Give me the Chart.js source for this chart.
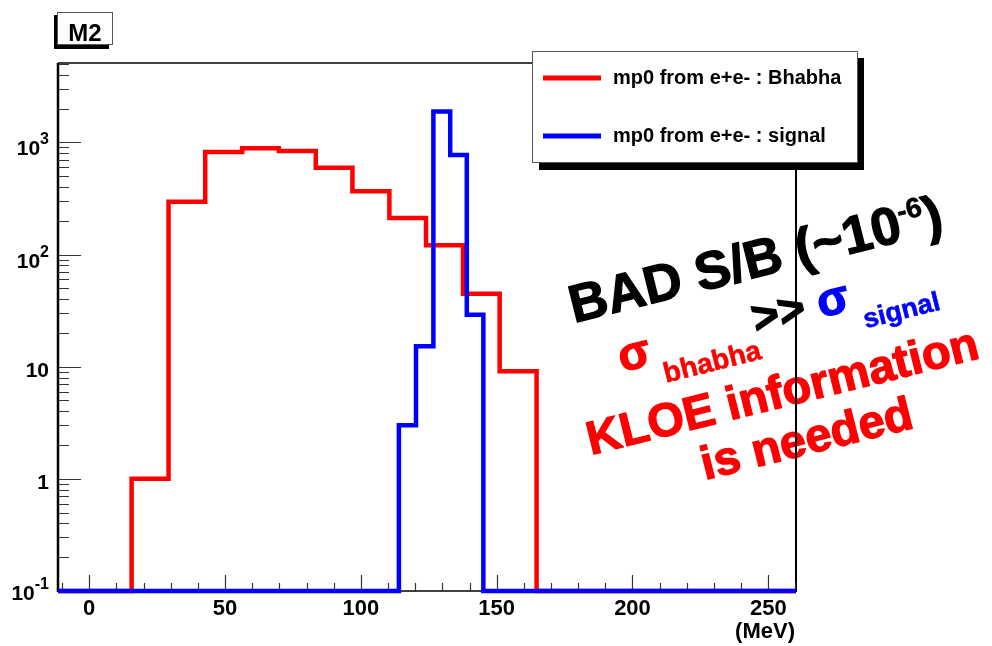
<!DOCTYPE html>
<html>
<head>
<meta charset="utf-8">
<script src="https://cdn.jsdelivr.net/npm/chart.js@4.4.0/dist/chart.umd.min.js"></script>
<style>
  body { margin: 0; background: #fff; }
  #wrap { width: 992px; height: 646px; }
</style>
</head>
<body>
<div id="wrap"><canvas id="m2Chart"></canvas></div>
<script>
// bin edges (MeV) and bin contents
const bhabhaEdges = [15.6, 29.2, 42.7, 56.3, 69.8, 83.4, 96.9, 110.5, 124.0, 137.6, 151.1, 164.7];
const bhabhaCounts = [1, 296, 822, 885, 836, 594, 367, 212, 121, 44.6, 9.1];
const signalEdges = [114.0, 120.3, 126.7, 132.9, 139.0, 145.1];
const signalCounts = [3.0, 15.2, 1880, 770, 29.1];

const seriesNames = ['mp0 from e+e- : Bhabha', 'mp0 from e+e- : signal'];
const seriesColors = ['#ff0000', '#0000ff'];

const xTickLabels = [0, 50, 100, 150, 200, 250];
const yTickValues = [0.1, 1, 10, 100, 1000];
const yTickText = [['10', '-1'], ['1', ''], ['10', ''], ['10', '2'], ['10', '3']];

const xMin = -11.5, xMax = 260.2;
const yMin = 0.1, yMax = 5100;

const FONT = '"Liberation Sans", Arial, sans-serif';

/**
 * Turn edges + contents into step points, empty bins sit on the axis floor.
 */
function histPoints(edges, counts) {
    let pts = [{ x: xMin, y: yMin }];
    counts.forEach((c, i) => pts.push({ x: edges[i], y: c }));
    pts.push({ x: edges[edges.length - 1], y: yMin });
    pts.push({ x: xMax, y: yMin });
    return pts;
}

function drawRuns(ctx, x, y, deg, runs) {
    ctx.save();
    ctx.translate(x, y);
    ctx.rotate(deg * Math.PI / 180);
    ctx.textBaseline = 'alphabetic';
    ctx.textAlign = 'left';
    ctx.lineJoin = 'round';
    let u = 0;
    runs.forEach(r => {
        ctx.font = 'bold ' + r.size + 'px ' + FONT;
        ctx.fillStyle = r.color;
        ctx.strokeStyle = r.color;
        ctx.lineWidth = r.size > 35 ? 1.3 : 0.6;
        u += r.gap || 0;
        ctx.fillText(r.t, u, r.dy || 0);
        ctx.strokeText(r.t, u, r.dy || 0);
        u += ctx.measureText(r.t).width;
    });
    ctx.restore();
}

const annotations = {
    id: 'annotations',
    beforeDraw(chart) {
        const ctx = chart.ctx;
        drawRuns(ctx, 574, 323, -14, [
            { t: 'BAD S/B (~10', size: 53, color: '#000' },
            { t: '-6', size: 28, color: '#000', dy: -20 },
            { t: ')', size: 53, color: '#000' }
        ]);
        drawRuns(ctx, 756, 334, -14, [
            { t: '>>', size: 46, color: '#000' },
            { t: 'σ', size: 47, color: '#0000ff', gap: 13 },
            { t: 'signal', size: 27, color: '#0000ff', dy: 21, gap: 9 }
        ]);
        drawRuns(ctx, 622, 372, -14, [
            { t: 'σ', size: 47, color: '#ff0000' },
            { t: 'bhabha', size: 28, color: '#ff0000', dy: 21, gap: 8 }
        ]);
        drawRuns(ctx, 591, 455, -14, [{ t: 'KLOE information', size: 47, color: '#ff0000' }]);
        drawRuns(ctx, 705, 480, -14, [{ t: 'is needed', size: 47, color: '#ff0000' }]);
    }
};

const frameAndAxes = {
    id: 'frameAndAxes',
    beforeDatasetsDraw(chart) {
        const ctx = chart.ctx;
        const a = chart.chartArea;
        const xs = chart.scales.x, ys = chart.scales.y;
        ctx.save();
        ctx.strokeStyle = '#000';

        // frame
        ctx.lineWidth = 1.5;
        ctx.beginPath();
        ctx.moveTo(a.left, a.top); ctx.lineTo(a.right, a.top);
        ctx.moveTo(a.left, a.bottom); ctx.lineTo(a.right, a.bottom);
        ctx.stroke();
        ctx.lineWidth = 2.5;
        ctx.beginPath();
        ctx.moveTo(a.left, a.top); ctx.lineTo(a.left, a.bottom + 1);
        ctx.stroke();
        ctx.lineWidth = 2;
        ctx.beginPath();
        ctx.moveTo(a.right, a.top); ctx.lineTo(a.right, a.bottom + 1);
        ctx.stroke();

        // x ticks, pointing inside
        ctx.lineWidth = 1.2;
        ctx.strokeStyle = '#333';
        ctx.beginPath();
        for (let v = -10; v <= xMax; v += 10) {
            const px = Math.round(xs.getPixelForValue(v)) + 0.5;
            const len = (v % 50 === 0) ? 16 : 8;
            ctx.moveTo(px, a.bottom);
            ctx.lineTo(px, a.bottom - len);
        }
        // y ticks, log decades with minor steps
        for (let d = -1; d <= 3; d++) {
            for (let k = 1; k <= 9; k++) {
                const v = k * Math.pow(10, d);
                if (v > yMax) continue;
                const py = Math.round(ys.getPixelForValue(v)) + 0.5;
                const len = (k === 1) ? 23 : 11;
                ctx.moveTo(a.left, py);
                ctx.lineTo(a.left + len, py);
            }
        }
        ctx.stroke();

        // x labels
        ctx.fillStyle = '#000';
        ctx.font = 'bold 22px ' + FONT;
        ctx.textAlign = 'center';
        ctx.textBaseline = 'alphabetic';
        xTickLabels.forEach(v => ctx.fillText(String(v), xs.getPixelForValue(v), 615));
        ctx.textAlign = 'right';
        ctx.fillText('(MeV)', 795, 638);

        // y labels with superscript exponents
        yTickValues.forEach((v, i) => {
            const py = ys.getPixelForValue(v);
            const base = yTickText[i][0], sup = yTickText[i][1];
            const right = 49;
            if (sup) {
                let bl = Math.min(py + 13, 600);
                ctx.font = 'bold 16px ' + FONT;
                const sw = ctx.measureText(sup).width;
                ctx.textAlign = 'right';
                ctx.fillText(sup, right, bl - 11);
                ctx.font = 'bold 21px ' + FONT;
                ctx.fillText(base, right - sw, bl);
            } else {
                ctx.font = 'bold 21px ' + FONT;
                ctx.textAlign = 'right';
                ctx.fillText(base, right, py + 10);
            }
        });
        ctx.restore();
    }
};

const boxes = {
    id: 'boxes',
    afterDraw(chart) {
        const ctx = chart.ctx;
        ctx.save();
        // title box with shadow
        ctx.fillStyle = '#000';
        ctx.fillRect(54, 15, 55, 34);
        ctx.fillStyle = '#fff';
        ctx.fillRect(57, 12, 56, 33);
        ctx.strokeStyle = '#555';
        ctx.lineWidth = 1;
        ctx.strokeRect(57.5, 12.5, 55, 32);
        ctx.fillStyle = '#000';
        ctx.font = 'bold 24px ' + FONT;
        ctx.textAlign = 'center';
        ctx.textBaseline = 'middle';
        ctx.fillText('M2', 85, 34);

        // legend box with shadow
        ctx.fillStyle = '#000';
        ctx.fillRect(539, 58, 325, 112);
        ctx.fillStyle = '#fff';
        ctx.fillRect(532, 51, 326, 112);
        ctx.strokeStyle = '#555';
        ctx.strokeRect(532.5, 51.5, 325, 111);
        const rows = [78, 136];
        ctx.font = 'bold 20px ' + FONT;
        ctx.textAlign = 'left';
        ctx.textBaseline = 'middle';
        seriesNames.forEach((name, i) => {
            ctx.strokeStyle = seriesColors[i];
            ctx.lineWidth = 5;
            ctx.beginPath();
            ctx.moveTo(543, rows[i]);
            ctx.lineTo(601, rows[i]);
            ctx.stroke();
            ctx.fillStyle = '#000';
            ctx.fillText(name, 613, rows[i]);
        });
        ctx.restore();
    }
};

let ctx = document.getElementById('m2Chart').getContext('2d');

let m2Chart = new Chart(ctx, {
    type: 'line',
    data: {
        datasets: [{
            label: seriesNames[0],
            data: histPoints(bhabhaEdges, bhabhaCounts),
            borderColor: seriesColors[0],
            borderWidth: 4.5,
            stepped: true,
            pointRadius: 0,
            fill: false,
            clip: 4,
            order: 1
        }, {
            label: seriesNames[1],
            data: histPoints(signalEdges, signalCounts),
            borderColor: seriesColors[1],
            borderWidth: 4.5,
            stepped: true,
            pointRadius: 0,
            fill: false,
            clip: 4,
            order: 0
        }]
    },
    options: {
        responsive: true,
        maintainAspectRatio: false,
        animation: false,
        devicePixelRatio: 1,
        layout: { padding: { left: 0, top: 63, right: 196, bottom: 0 } },
        plugins: {
            legend: { display: false },
            tooltip: { enabled: false },
            title: { display: false }
        },
        scales: {
            x: {
                type: 'linear',
                min: xMin,
                max: xMax,
                grid: { display: false },
                border: { display: false },
                ticks: { display: false },
                afterFit: s => { s.height = 55; }
            },
            y: {
                type: 'logarithmic',
                min: yMin,
                max: yMax,
                grid: { display: false },
                border: { display: false },
                ticks: { display: false },
                afterFit: s => { s.width = 58; }
            }
        }
    },
    plugins: [annotations, frameAndAxes, boxes]
});
</script>
</body>
</html>
